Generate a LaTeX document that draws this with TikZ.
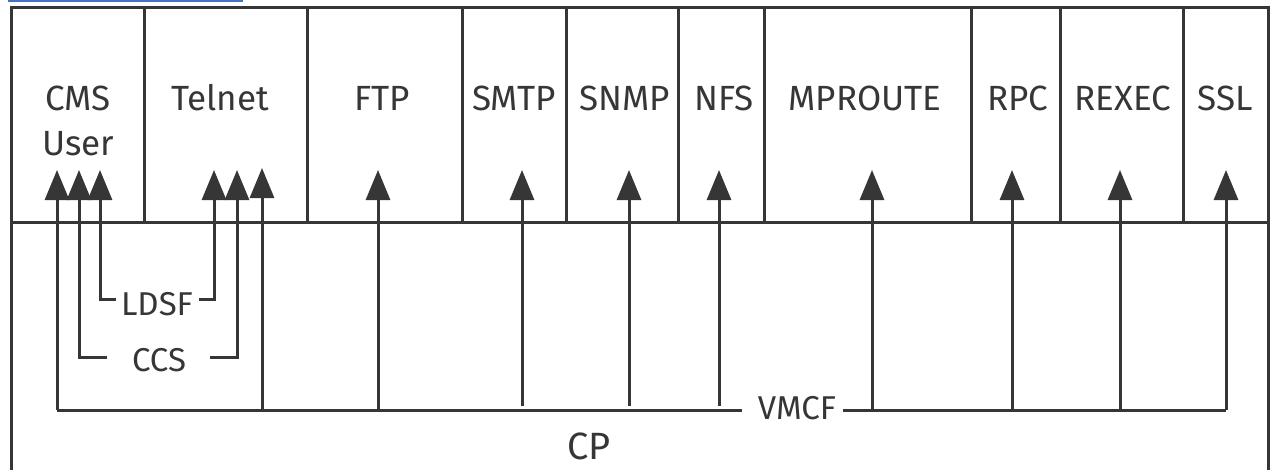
\documentclass[tikz,border=0pt]{standalone}
\usepackage{fontspec}
\setmainfont{Fira Sans}
\usetikzlibrary{arrows.meta,positioning,calc}
\definecolor{ink}{HTML}{363636}
\definecolor{linkblue}{HTML}{4472C4}

\tikzset{
  lbl/.style={text=ink, font=\fontsize{35}{45}\selectfont, inner sep=0pt},
  small/.style={text=ink, font=\fontsize{33}{40}\selectfont, inner sep=0pt},
  wire/.style={draw=ink, line width=3pt},
  sig/.style={wire, -{Triangle[width=24pt,length=30pt]}},
}

\begin{document}
\begin{tikzpicture}[x=1pt,y=-1pt]
\useasboundingbox (0,0) rectangle (1271,469);
\fill[linkblue] (8,0) rectangle (243,1.5); % link underline
\draw[wire] (11,490) -- (11,7) -- (1268,7) -- (1268,490); % frame, open at the bottom
\draw[wire] (11,222) -- (1268,222);
\foreach \x in {144,307,462,566,678,764,971,1060,1183}
  \draw[wire] (\x,7) -- (\x,222);

% applications
\node[lbl, align=center] (cms) at (78,120.5) {CMS\\User};
\node[lbl] (telnet) at (220,98) {Telnet};
\node[lbl] (ftp) at (382,98) {FTP};
\node[lbl] (smtp) at (514,98) {SMTP};
\node[lbl] (snmp) at (625,98) {SNMP};
\node[lbl] (nfs) at (724,98) {NFS};
\node[lbl] (mproute) at (865,98) {MPROUTE};
\node[lbl] (rpc) at (1018,98) {RPC};
\node[lbl] (rexec) at (1123,98) {REXEC};
\node[lbl] (ssl) at (1225,98) {SSL};

% paths through CP
\node[small] (ldsf) at (157,304) {LDSF};
\node[small] (ccs) at (159,360) {CCS};
\node[small] (vmcf) at (797,408) {VMCF};
\node[text=ink, font=\fontsize{38}{46}\selectfont, inner sep=0pt] (cp) at (589,446) {CP};

% LDSF
\draw[sig] (ldsf.west) ++(-5,-5) -- (100,299) -- (100,170);
\draw[sig] (ldsf.east) ++(6,-5) -- (214,299) -- (214,170);
% CCS
\draw[sig] (ccs.west) ++(-25,-3) -- (79,357) -- (79,170);
\draw[sig] (ccs.east) ++(24,-3) -- (237,357) -- (237,170);
% VMCF
\draw[wire] (vmcf.west) ++(-16,2) -- (57,410);
\draw[sig] (57,410) -- (57,170);
\draw[sig] (262,410) -- (262,168);
\draw[sig] (378,410) -- (378,170);
\foreach \x in {522,629,719}
  \draw[sig] (\x,406) -- (\x,170);
\draw[wire] (vmcf.east) ++(7,2) -- (1226,410);
\foreach \x in {872,1012,1120,1226}
  \draw[sig] (\x,410) -- (\x,170);
\end{tikzpicture}
\end{document}
